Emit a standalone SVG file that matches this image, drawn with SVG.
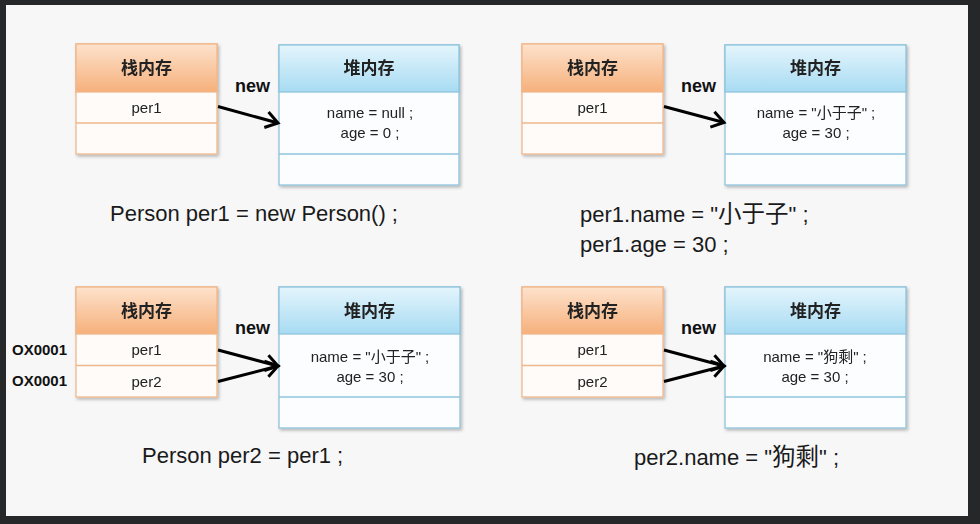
<svg xmlns="http://www.w3.org/2000/svg" width="980" height="524" viewBox="0 0 980 524">
<style>
.sbox{fill:#fefbf8;stroke:#f0b78c;stroke-width:1.3}
.shead{fill:url(#gs);stroke:#f0b78c;stroke-width:1.3}
.hbox{fill:#fbfdfe;stroke:#90c4dc;stroke-width:1.3}
.hhead{fill:url(#gh);stroke:#90c4dc;stroke-width:1.3}
.ttl{font-family:"Liberation Sans","Noto Sans CJK SC",sans-serif;font-weight:bold;font-size:17px;fill:#222;text-anchor:middle}
.cell{font-family:"Liberation Sans","Noto Sans CJK SC",sans-serif;font-size:15px;fill:#222;text-anchor:middle}
.new{font-family:"Liberation Sans",sans-serif;font-weight:bold;font-size:18px;fill:#111}
.addr{font-family:"Liberation Sans",sans-serif;font-weight:bold;font-size:15px;fill:#111}
.cap{font-family:"Liberation Sans","Noto Sans CJK SC",sans-serif;font-size:22px;fill:#1a1a1a}
.cjk{font-size:23.5px}
.conn{stroke:#000;stroke-width:3;fill:none;marker-end:url(#ah)}
</style>
<defs>
<linearGradient id="gs" x1="0" y1="0" x2="0" y2="1">
<stop offset="0" stop-color="#fde2cc"/>
<stop offset="1" stop-color="#f6b07b"/>
</linearGradient>
<linearGradient id="gh" x1="0" y1="0" x2="0" y2="1">
<stop offset="0" stop-color="#e4f5fc"/>
<stop offset="1" stop-color="#a7dbf2"/>
</linearGradient>
<filter id="sh" x="-10%" y="-10%" width="125%" height="130%">
<feDropShadow dx="1.5" dy="2" stdDeviation="1.5" flood-color="#000" flood-opacity="0.25"/>
</filter>
<marker id="ah" markerUnits="userSpaceOnUse" markerWidth="22" markerHeight="22" viewBox="0 0 22 22" refX="17" refY="11" orient="auto">
<path d="M5,3 L17,11 L5,19" fill="none" stroke="#000" stroke-width="3" stroke-linejoin="miter"/>
</marker>
</defs>
<rect x="0" y="0" width="980" height="524" fill="#252729"/>
<rect x="6" y="5" width="962" height="511" fill="#f7f7f8"/>

<!-- Panel 1 -->
<g id="stack1" filter="url(#sh)">
<rect class="sbox" x="76" y="44" width="141" height="110"/>
<rect class="shead" x="76" y="44" width="141" height="48"/>
<line x1="76" y1="123" x2="217" y2="123" stroke="#f0b78c" stroke-width="1.3"/>
<text class="ttl" x="146.5" y="74">栈内存</text>
<text class="cell" x="146.5" y="112.5">per1</text>
</g>
<g id="heap1" filter="url(#sh)">
<rect class="hbox" x="279" y="45" width="180" height="140"/>
<rect class="hhead" x="279" y="45" width="180" height="47"/>
<line x1="279" y1="154" x2="459" y2="154" stroke="#90c4dc" stroke-width="1.3"/>
<text class="ttl" x="369" y="74">堆内存</text>
<text class="cell" x="370" y="118">name = null ;</text>
<text class="cell" x="370" y="138">age = 0 ;</text>
</g>
<text class="new" x="235" y="91.5">new</text>
<text class="cap" x="110" y="221">Person per1 = new Person() ;</text>

<!-- Panel 2 -->
<g id="stack2" filter="url(#sh)">
<rect class="sbox" x="522" y="44" width="141" height="110"/>
<rect class="shead" x="522" y="44" width="141" height="48"/>
<line x1="522" y1="123" x2="663" y2="123" stroke="#f0b78c" stroke-width="1.3"/>
<text class="ttl" x="592.5" y="74">栈内存</text>
<text class="cell" x="592.5" y="112.5">per1</text>
</g>
<g id="heap2" filter="url(#sh)">
<rect class="hbox" x="725" y="45" width="181" height="140"/>
<rect class="hhead" x="725" y="45" width="181" height="47"/>
<line x1="725" y1="154" x2="906" y2="154" stroke="#90c4dc" stroke-width="1.3"/>
<text class="ttl" x="815.5" y="74">堆内存</text>
<text class="cell" x="816" y="118">name = "小于子" ;</text>
<text class="cell" x="816" y="138">age = 30 ;</text>
</g>
<text class="new" x="681" y="91.5">new</text>
<text class="cap" x="580" y="222">per1.name = "<tspan class="cjk">小于子</tspan>" ;</text>
<text class="cap" x="580" y="252">per1.age = 30 ;</text>

<!-- Panel 3 -->
<g id="stack3" filter="url(#sh)">
<rect class="sbox" x="76" y="287" width="141" height="110"/>
<rect class="shead" x="76" y="287" width="141" height="47"/>
<line x1="76" y1="365.5" x2="217" y2="365.5" stroke="#f0b78c" stroke-width="1.3"/>
<text class="ttl" x="146.5" y="317">栈内存</text>
<text class="cell" x="146.5" y="355">per1</text>
<text class="cell" x="146.5" y="386.5">per2</text>
</g>
<g id="heap3" filter="url(#sh)">
<rect class="hbox" x="279" y="287" width="181" height="141"/>
<rect class="hhead" x="279" y="287" width="181" height="47"/>
<line x1="279" y1="397" x2="460" y2="397" stroke="#90c4dc" stroke-width="1.3"/>
<text class="ttl" x="369.5" y="317">堆内存</text>
<text class="cell" x="370" y="361.5">name = "小于子" ;</text>
<text class="cell" x="370" y="381.5">age = 30 ;</text>
</g>
<text class="addr" x="12" y="355">OX0001</text>
<text class="addr" x="12" y="386">OX0001</text>
<text class="new" x="235" y="334">new</text>
<text class="cap" x="142" y="462.5">Person per2 = per1 ;</text>

<!-- Panel 4 -->
<g id="stack4" filter="url(#sh)">
<rect class="sbox" x="522" y="287" width="141" height="110"/>
<rect class="shead" x="522" y="287" width="141" height="47"/>
<line x1="522" y1="365.5" x2="663" y2="365.5" stroke="#f0b78c" stroke-width="1.3"/>
<text class="ttl" x="592.5" y="317">栈内存</text>
<text class="cell" x="592.5" y="355">per1</text>
<text class="cell" x="592.5" y="386.5">per2</text>
</g>
<g id="heap4" filter="url(#sh)">
<rect class="hbox" x="725" y="287" width="181" height="141"/>
<rect class="hhead" x="725" y="287" width="181" height="47"/>
<line x1="725" y1="397" x2="906" y2="397" stroke="#90c4dc" stroke-width="1.3"/>
<text class="ttl" x="815.5" y="317">堆内存</text>
<text class="cell" x="815" y="361.5">name = "狗剩" ;</text>
<text class="cell" x="815" y="381.5">age = 30 ;</text>
</g>
<text class="new" x="681" y="334">new</text>
<text class="cap" x="634" y="465">per2.name = "<tspan class="cjk">狗剩</tspan>" ;</text>

<g id="connectors">
<line class="conn" x1="218" y1="106.5" x2="278" y2="123"/>
<line class="conn" x1="664" y1="106.5" x2="724" y2="122.5"/>
<line class="conn" x1="218" y1="350" x2="278" y2="366"/>
<line class="conn" x1="218" y1="381.5" x2="278" y2="366"/>
<line class="conn" x1="664" y1="350" x2="724" y2="366"/>
<line class="conn" x1="664" y1="381.5" x2="724" y2="366"/>
</g>
</svg>
